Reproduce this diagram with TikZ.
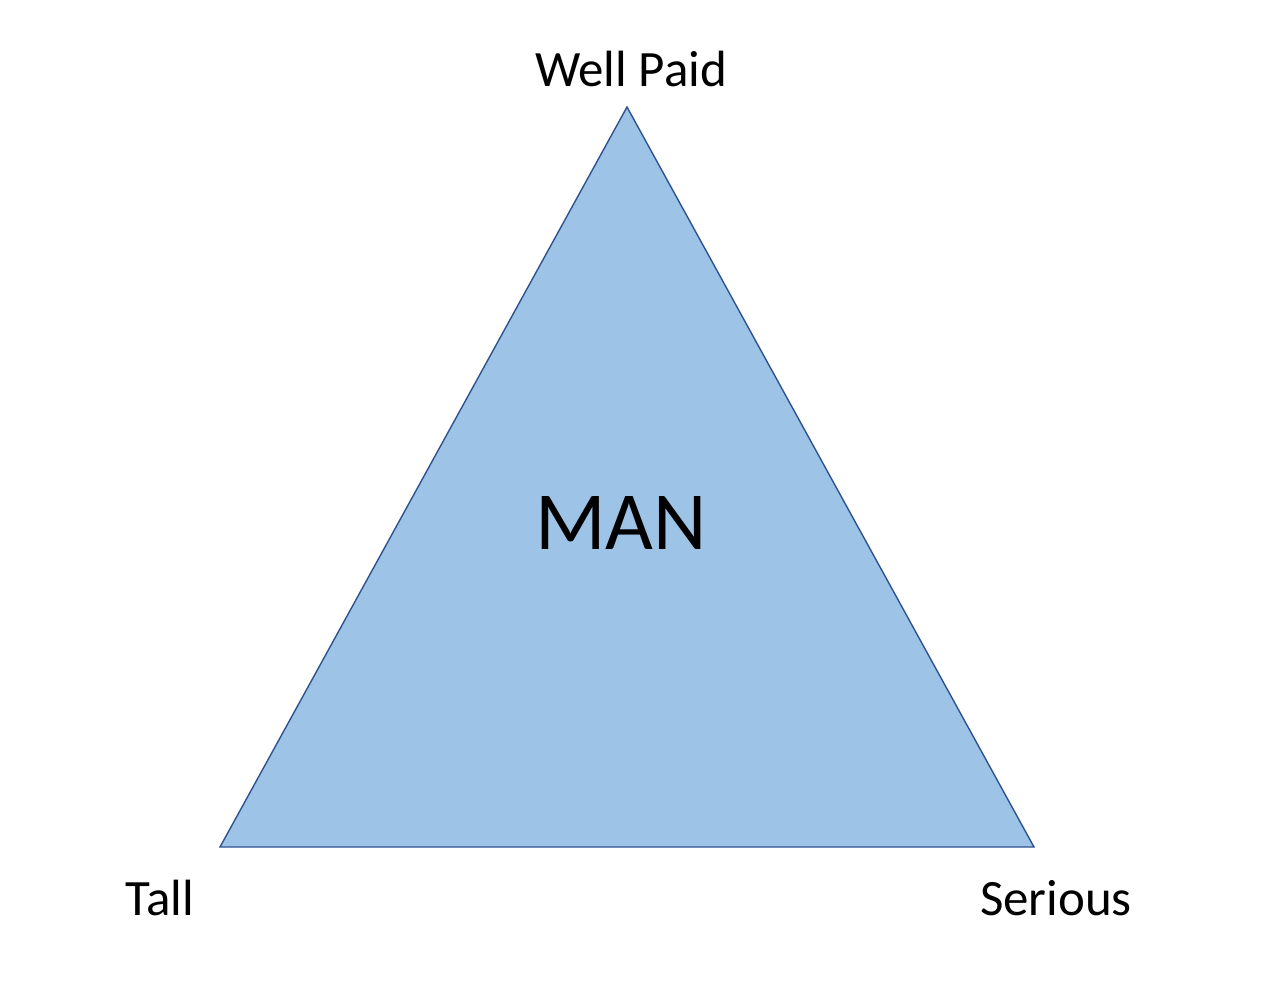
\documentclass[tikz,border=0pt]{standalone}
\usepackage{fontspec}
\setmainfont{Carlito}
\usetikzlibrary{positioning}

\definecolor{trifill}{HTML}{9DC3E6}
\definecolor{triline}{HTML}{2F528F}

\begin{document}
\begin{tikzpicture}[
    x=0.02cm, y=-0.02cm,
    corner/.style={inner sep=0pt, anchor=base, font=\fontsize{29}{34}\selectfont},
    centre/.style={inner sep=0pt, anchor=base, font=\fontsize{47}{56}\selectfont},
    tri/.style={draw=triline, fill=trifill, line width=0.8pt, line join=miter}
]
\useasboundingbox (0,0) rectangle (1276,994);

% triangle corners
\coordinate (top) at (627,107);
\coordinate (left) at (220,847);
\coordinate (right) at (1034,847);
\draw [tri] (top) -- (left) -- (right) -- cycle;

\node (wellpaid) [corner] at (631,86) {Well Paid};
\node (tall) [corner] at (160,915) {Tall};
\node (serious) [corner] at (1056,915) {Serious};
\node (man) [centre] at (621,549) {MAN};
\end{tikzpicture}
\end{document}
